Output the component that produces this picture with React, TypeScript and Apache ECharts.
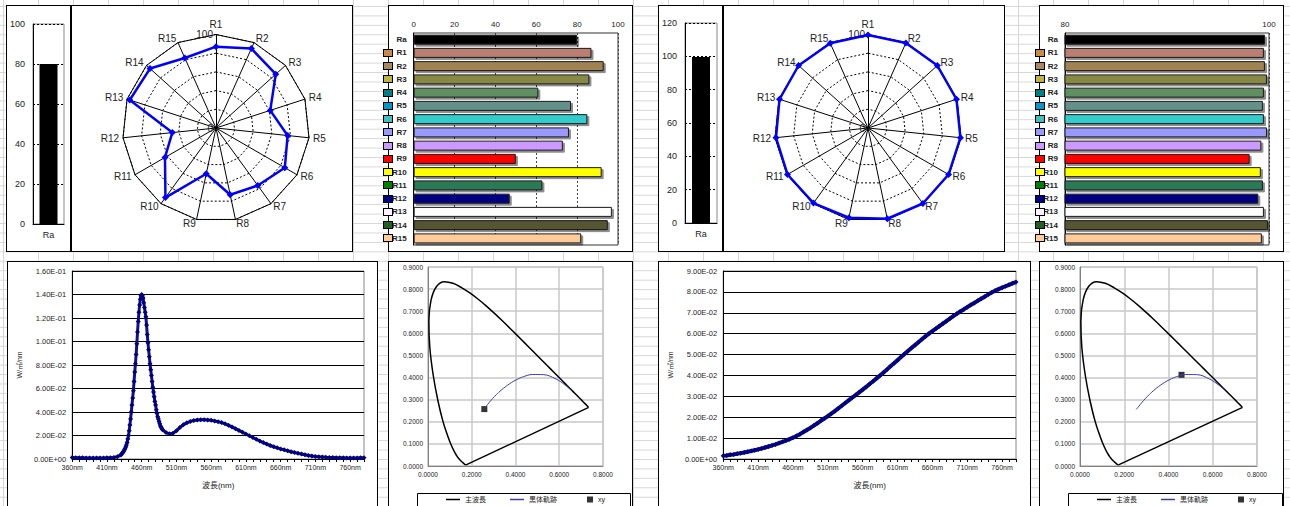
import React, { useEffect, useRef } from 'react';
import * as echarts from 'echarts';

const FONT = "'Liberation Sans', 'Noto Sans CJK JP', sans-serif";
const TXT = '#222';

// ---------- data ----------
const rNames = ['R1', 'R2', 'R3', 'R4', 'R5', 'R6', 'R7', 'R8', 'R9', 'R10', 'R11', 'R12', 'R13', 'R14', 'R15'];
const barCats = ['Ra', ...rNames];

const leftRa = 80;
const leftR = [87, 93, 86, 61, 77, 85, 76, 73, 50, 92, 63, 47, 97, 95, 82];
const rightRa = 99.6;
const rightR = [99.5, 99.6, 99.8, 99.5, 99.4, 99.5, 99.8, 99.25, 98.1, 99.2, 99.4, 98.95, 99.5, 99.9, 99.3];

const barColors = ['#000000', '#BA7F6F', '#A08252', '#888844', '#5F9062', '#639089', '#33CCCC', '#9999FF', '#CC99FF', '#FF0000', '#FFFF00', '#2B7A58', '#000080', '#FFFFFF', '#555533', '#FFCC99'];
const swatchColors = ['#C98A47', '#A88860', '#BDB540', '#008080', '#0099CC', '#40C0C0', '#9999FF', '#CC99FF', '#FF0000', '#FFFF00', '#008000', '#000080', '#FFF0FF', '#206020', '#FFCC99'];

const leftWl = [360, 365, 370, 375, 380, 385, 390, 395, 400, 405, 410, 415, 420, 425,
  430, 431, 432, 433, 434, 435, 436, 437, 438, 439, 440, 441, 442, 443, 444, 445, 446, 447, 448, 449,
  450, 451, 452, 453, 454, 455, 456, 457, 458, 459, 460, 461, 462, 463, 464, 465, 466, 467, 468, 469,
  470, 471, 472, 473, 474, 475, 476, 477, 478, 479, 480, 481, 482, 483, 484, 485, 486, 487, 488, 489, 490,
  495, 500, 505, 510, 515, 520, 525, 530, 535, 540, 545, 550, 555, 560, 565, 570, 575, 580, 585, 590,
  595, 600, 605, 610, 615, 620, 625, 630, 635, 640, 645, 650, 655, 660, 665, 670, 675, 680, 685, 690,
  695, 700, 705, 710, 715, 720, 725, 730, 735, 740, 745, 750, 755, 760, 765, 770, 775, 780];
const leftSpd = [0.0012, 0.0011, 0.0010, 0.0010, 0.0009, 0.0009, 0.0009, 0.0009, 0.0009, 0.0009, 0.0010, 0.0011, 0.0013, 0.0020,
  0.0035, 0.0042, 0.0050, 0.0058, 0.0067, 0.0077, 0.0088, 0.0102, 0.0120, 0.0140, 0.0170, 0.0200, 0.0240, 0.0290, 0.0340, 0.0400, 0.0460, 0.0520, 0.0580, 0.0660,
  0.0740, 0.0810, 0.0890, 0.0980, 0.1080, 0.1170, 0.1250, 0.1310, 0.1360, 0.1390, 0.1400, 0.1390, 0.1370, 0.1330, 0.1290, 0.1250, 0.1210, 0.1140, 0.1060, 0.0990,
  0.0930, 0.0870, 0.0810, 0.0760, 0.0710, 0.0660, 0.0610, 0.0570, 0.0530, 0.0490, 0.0460, 0.0420, 0.0390, 0.0360, 0.0340, 0.0320, 0.0300, 0.0280, 0.0270, 0.0260, 0.0250,
  0.0225, 0.0214, 0.0220, 0.0240, 0.0268, 0.0292, 0.0308, 0.0320, 0.0328, 0.0332, 0.0334, 0.0334, 0.0332, 0.0329, 0.0324, 0.0318, 0.0310, 0.0299, 0.0287, 0.0273,
  0.0258, 0.0243, 0.0228, 0.0213, 0.0198, 0.0183, 0.0168, 0.0153, 0.0140, 0.0127, 0.0115, 0.0104, 0.0095, 0.0086, 0.0078, 0.0070, 0.0062, 0.0055, 0.0048, 0.0042,
  0.0036, 0.0030, 0.0026, 0.0022, 0.0019, 0.0016, 0.0014, 0.0013, 0.0012, 0.0011, 0.0010, 0.0010, 0.0009, 0.0009, 0.0009, 0.0009, 0.0010, 0.0010];

const rightWl = [360, 365, 370, 375, 380, 385, 390, 395, 400, 405, 410, 415, 420, 425, 430, 435, 440, 445, 450, 455,
  460, 465, 470, 475, 480, 485, 490, 495, 500, 505, 510, 515, 520, 525, 530, 535, 540, 545, 550, 555,
  560, 565, 570, 575, 580, 585, 590, 595, 600, 605, 610, 615, 620, 625, 630, 635, 640, 645, 650, 655,
  660, 665, 670, 675, 680, 685, 690, 695, 700, 705, 710, 715, 720, 725, 730, 735, 740, 745, 750, 755,
  760, 765, 770, 775, 780];
const rightSpd = [0.0015, 0.0017, 0.0020, 0.0022, 0.0025, 0.0028, 0.0031, 0.0035, 0.0038, 0.0042, 0.0046, 0.0050, 0.0055, 0.0060, 0.0065, 0.0070, 0.0076, 0.0082, 0.0088, 0.0095,
  0.0102, 0.0110, 0.0119, 0.0129, 0.0139, 0.0149, 0.0160, 0.0171, 0.0183, 0.0194, 0.0205, 0.0217, 0.0229, 0.0242, 0.0255, 0.0268, 0.0281, 0.0294, 0.0306, 0.0319,
  0.0332, 0.0345, 0.0359, 0.0372, 0.0386, 0.0400, 0.0414, 0.0429, 0.0444, 0.0458, 0.0473, 0.0488, 0.0503, 0.0517, 0.0531, 0.0545, 0.0559, 0.0573, 0.0587, 0.0600,
  0.0612, 0.0624, 0.0636, 0.0648, 0.0660, 0.0672, 0.0684, 0.0695, 0.0706, 0.0716, 0.0727, 0.0737, 0.0747, 0.0757, 0.0767, 0.0777, 0.0787, 0.0797, 0.0806, 0.0813,
  0.0820, 0.0827, 0.0834, 0.0841, 0.0847];

// CIE 1931 spectral locus (380 .. 700 nm)
const locusX = [0.1741, 0.1738, 0.1733, 0.1726, 0.1714, 0.1689, 0.1644, 0.1566, 0.1510, 0.1440, 0.1355, 0.1241, 0.1096, 0.0913, 0.0687, 0.0454, 0.0235, 0.0082, 0.0039, 0.0139,
  0.0389, 0.0743, 0.1142, 0.1547, 0.1929, 0.2296, 0.2658, 0.3016, 0.3373, 0.3731, 0.4087, 0.4441, 0.4788, 0.5125, 0.5448, 0.5752, 0.6029, 0.6270, 0.6482, 0.6658,
  0.6801, 0.6915, 0.7006, 0.7079, 0.7190, 0.7260, 0.7300, 0.7334, 0.7347];
const locusY = [0.0050, 0.0049, 0.0048, 0.0048, 0.0051, 0.0069, 0.0109, 0.0177, 0.0227, 0.0297, 0.0399, 0.0578, 0.0868, 0.1327, 0.2007, 0.2950, 0.4127, 0.5384, 0.6548, 0.7502,
  0.8120, 0.8338, 0.8262, 0.8059, 0.7816, 0.7543, 0.7243, 0.6923, 0.6589, 0.6245, 0.5896, 0.5547, 0.5202, 0.4866, 0.4544, 0.4242, 0.3965, 0.3725, 0.3514, 0.3340,
  0.3197, 0.3083, 0.2993, 0.2920, 0.2809, 0.2740, 0.2700, 0.2666, 0.2653];

// Planckian (blackbody) locus
const bbX = [0.2540, 0.2637, 0.2807, 0.2952, 0.3135, 0.3221, 0.3451, 0.3805, 0.4053, 0.4369, 0.4770, 0.5267, 0.5857, 0.6251, 0.6528];
const bbY = [0.2560, 0.2675, 0.2884, 0.3048, 0.3237, 0.3318, 0.3516, 0.3768, 0.3907, 0.4041, 0.4137, 0.4133, 0.3931, 0.3674, 0.3444];

const leftXY = [0.2575, 0.2574];
const rightXY = [0.4589, 0.4124];

// ---------- layout (panel boxes) ----------
const PANELS = [
  { x: 6, y: 5, w: 65, h: 247 },
  { x: 71, y: 5, w: 282, h: 247 },
  { x: 388, y: 5, w: 245, h: 247 },
  { x: 658, y: 5, w: 65, h: 247 },
  { x: 723, y: 5, w: 282, h: 247 },
  { x: 1039, y: 5, w: 245, h: 247 },
  { x: 7, y: 261, w: 371, h: 260 },
  { x: 388, y: 261, w: 245, h: 260 },
  { x: 658, y: 261, w: 373, h: 260 },
  { x: 1039, y: 261, w: 245, h: 260 },
];

function sci(v: number): string {
  if (Math.abs(v) < 1e-12) return '0.00E+00';
  let e = Math.floor(Math.log10(Math.abs(v)));
  let m = v / Math.pow(10, e);
  if (Math.round(m * 100) / 100 >= 10) { m /= 10; e += 1; }
  if (Math.round(m * 100) / 100 < 1) { m *= 10; e -= 1; }
  return m.toFixed(2) + 'E' + (e < 0 ? '-' : '+') + String(Math.abs(e)).padStart(2, '0');
}

function raOption(v: number, max: number, top: number, width: number) {
  return {
    animation: false,
    grid: { left: 24, top, width, height: 200, show: true, borderColor: '#888', borderWidth: 1 },
    xAxis: {
      type: 'category', data: ['Ra'],
      axisLine: { lineStyle: { color: '#000' } }, axisTick: { show: false },
      axisLabel: { color: TXT, fontSize: 9, fontFamily: FONT, margin: 6 },
    },
    yAxis: {
      type: 'value', min: 0, max, interval: 20,
      axisLine: { show: true, lineStyle: { color: '#000' } }, axisTick: { show: false },
      axisLabel: { color: TXT, fontSize: 9, fontFamily: FONT, margin: 8 },
      splitLine: { lineStyle: { color: '#000', type: [2, 2], width: 1 } },
    },
    series: [{ type: 'bar', data: [v], barWidth: 18, itemStyle: { color: '#000' } }],
  };
}

function radarOption(vals: number[], cx: number) {
  const order = [0, 14, 13, 12, 11, 10, 9, 8, 7, 6, 5, 4, 3, 2, 1];
  const base = { center: [cx, 122], radius: 93.5, startAngle: 90, shape: 'polygon' };
  return {
    animation: false,
    radar: [
      {
        ...base,
        splitNumber: 5,
        indicator: order.map((i, k) => (k === 0
          ? { name: rNames[i], min: 0, max: 100, axisLabel: { show: true } }
          : { name: rNames[i], min: 0, max: 100 })),
        axisName: { color: TXT, fontSize: 10, fontFamily: FONT },
        axisNameGap: 4,
        axisLine: { lineStyle: { color: '#000', width: 1 } },
        axisTick: { show: false },
        splitLine: { lineStyle: { color: '#000', width: 1, type: [2, 2] } },
        splitArea: { show: false },
        axisLabel: {
          show: false, color: TXT, fontSize: 10, fontFamily: FONT, margin: 3,
          formatter: (v: number) => (v === 0 || v === 100 ? String(v) : ''),
        },
      },
      {
        ...base,
        splitNumber: 1,
        indicator: order.map((i) => ({ name: rNames[i], min: 0, max: 100 })),
        axisName: { show: false },
        axisLine: { show: false },
        axisTick: { show: false },
        axisLabel: { show: false },
        splitLine: { lineStyle: { color: '#000', width: 1 } },
        splitArea: { show: false },
      },
    ],
    series: [{
      type: 'radar', radarIndex: 0,
      symbol: 'diamond', symbolSize: 7,
      itemStyle: { color: '#0000FF' },
      lineStyle: { color: '#0000FF', width: 2.5 },
      data: [{ value: order.map((i) => vals[i]) }],
    }],
  };
}

function hbarOption(ra: number, rs: number[], min: number, max: number, left: number, width: number) {
  const vals = [ra, ...rs];
  return {
    animation: false,
    grid: { left, top: 27, width, height: 212, show: true, borderColor: '#333', borderWidth: 1 },
    xAxis: {
      type: 'value', position: 'top', min, max, interval: 20,
      axisLine: { show: false }, axisTick: { show: false },
      axisLabel: { color: TXT, fontSize: 8, fontFamily: FONT, margin: 5 },
      splitLine: { show: true, lineStyle: { color: '#444', type: [2, 2], width: 1 } },
    },
    yAxis: {
      type: 'category', inverse: true, data: barCats,
      axisLine: { show: true, lineStyle: { color: '#000' } }, axisTick: { show: false },
      axisLabel: { color: TXT, fontSize: 8, fontWeight: 'bold', fontFamily: FONT, margin: 7 },
    },
    series: [{
      type: 'bar', barWidth: 10,
      itemStyle: { borderColor: '#1a1a1a', borderWidth: 1, shadowColor: 'rgba(0,0,0,0.45)', shadowOffsetX: 2, shadowOffsetY: 2, shadowBlur: 0 },
      data: vals.map((v, i) => ({ value: v, itemStyle: { color: barColors[i] } })),
    }],
  };
}

function spectrumOption(wl: number[], spd: number[], ymax: number, yint: number, left: number, width: number, lw: number) {
  return {
    animation: false,
    grid: { left, top: 9, width, height: 188, show: true, borderColor: '#888', borderWidth: 1 },
    xAxis: {
      type: 'value', min: 360, max: 780, interval: 10,
      axisLine: { onZero: false, lineStyle: { color: '#000' } },
      axisTick: { show: true, length: 3, lineStyle: { color: '#000' } },
      splitLine: { show: false },
      axisLabel: {
        color: TXT, fontSize: 7, fontFamily: FONT, margin: 5,
        formatter: (v: number) => {
          const r = Math.round(v);
          return (r - 360) % 50 === 0 && r <= 760 ? `${r}nm` : '';
        },
      },
      name: '波長(nm)', nameLocation: 'middle', nameGap: 22,
      nameTextStyle: { color: TXT, fontSize: 8, fontFamily: FONT },
    },
    yAxis: {
      type: 'value', min: 0, max: ymax, interval: yint,
      axisLine: { show: true, lineStyle: { color: '#000' } }, axisTick: { show: false },
      splitLine: { lineStyle: { color: '#000', width: 1 } },
      axisLabel: { color: TXT, fontSize: 7.5, fontFamily: FONT, margin: 6, formatter: sci },
      name: 'W/㎡/nm', nameLocation: 'middle', nameGap: 40,
      nameTextStyle: { color: TXT, fontSize: 7, fontFamily: FONT },
    },
    series: [{
      type: 'line', data: wl.map((w, i) => [w, spd[i]]),
      symbol: 'diamond', symbolSize: 5,
      itemStyle: { color: '#000080' },
      lineStyle: { color: '#10108a', width: lw },
    }],
  };
}

function cieOption(pt: number[], left: number, width: number, boxW: number) {
  const locus = locusX.map((x, i) => [x, locusY[i]]);
  const last = locus.length - 1;
  const bb = bbX.map((x, i) => [x, bbY[i]]);
  const lab = { color: TXT, fontSize: 6.5, fontFamily: FONT, margin: 5, formatter: (v: number) => v.toFixed(4) };
  const legText = { color: TXT, fontSize: 7, fontFamily: FONT };
  return {
    animation: false,
    grid: { left, top: 5, width, height: 199, show: true, borderColor: '#b0b0b0', borderWidth: 1 },
    xAxis: {
      type: 'value', min: 0, max: 0.8, interval: 0.2,
      axisLine: { lineStyle: { color: '#808080' } }, axisTick: { show: false },
      splitLine: { lineStyle: { color: '#c8c8c8', width: 1.5 } }, axisLabel: lab,
    },
    yAxis: {
      type: 'value', min: 0, max: 0.9, interval: 0.1,
      axisLine: { show: true, lineStyle: { color: '#808080' } }, axisTick: { show: false },
      splitLine: { lineStyle: { color: '#c8c8c8', width: 1.5 } }, axisLabel: lab,
    },
    graphic: [{
      type: 'rect', silent: true, z: 0,
      shape: { x: 28.5, y: 231.5, width: boxW, height: 30 },
      style: { fill: '#fff', stroke: '#000', lineWidth: 1 },
    }],
    legend: [
      {
        data: [{ name: '主波長', icon: 'rect' }, { name: '黒体軌跡', icon: 'rect' }],
        left: 57, top: 234, padding: 0, itemWidth: 14, itemHeight: 1.5, itemGap: 24, textStyle: legText, selectedMode: false,
      },
      { data: [{ name: 'xy', icon: 'rect' }], left: 198, top: 234, padding: 0, itemWidth: 6, itemHeight: 6, textStyle: legText, selectedMode: false },
    ],
    series: [
      { name: '主波長', type: 'line', data: locus, symbol: 'none', smooth: 0.4, color: '#000', lineStyle: { color: '#000', width: 1.5 } },
      { name: '主波長', type: 'line', data: [locus[last], locus[0]], symbol: 'none', color: '#000', lineStyle: { color: '#000', width: 1.5 } },
      { name: '黒体軌跡', type: 'line', data: bb, symbol: 'none', smooth: 0.4, color: '#3c3ca8', lineStyle: { color: '#3c3ca8', width: 1 } },
      { name: 'xy', type: 'scatter', data: [pt], symbol: 'rect', symbolSize: 6, color: '#000', itemStyle: { color: '#000' } },
    ],
  };
}

export default function App() {
  const refs = useRef<(HTMLDivElement | null)[]>([]);

  useEffect(() => {
    const options: any[] = [
      raOption(leftRa, 100, 18, 33),
      radarOption(leftR, 144),
      hbarOption(leftRa, leftR, 0, 100, 24, 205),
      raOption(rightRa, 120, 17, 34),
      radarOption(rightR, 144),
      hbarOption(rightRa, rightR, 80, 100, 25, 204),
      spectrumOption(leftWl, leftSpd, 0.16, 0.02, 55, 301, 3),
      cieOption(leftXY, 39, 175, 213),
      spectrumOption(rightWl, rightSpd, 0.09, 0.01, 57, 300, 4),
      cieOption(rightXY, 40, 177, 214),
    ];
    const charts = refs.current.map((el, i) => {
      const c = echarts.init(el as HTMLDivElement, undefined, { renderer: 'svg' });
      c.setOption(options[i]);
      return c;
    });
    return () => charts.forEach((c) => c.dispose());
  }, []);

  const band = 212 / 16;
  const swatchLefts = [383, 1035];

  return (
    <div
      style={{
        position: 'absolute', left: 0, top: 0, width: 1290, height: 506, overflow: 'hidden',
        backgroundColor: '#fff',
        backgroundImage: 'linear-gradient(to bottom, #d6d6d6 1px, transparent 1px), linear-gradient(to right, #d6d6d6 1px, transparent 1px)',
        backgroundSize: '100% 9.45px, 35px 100%',
        backgroundPosition: '0 6px, 3px 0',
      }}
    >
      {PANELS.map((p, i) => (
        <div
          key={i}
          style={{
            position: 'absolute', left: p.x, top: p.y, width: p.w, height: p.h,
            border: '1px solid #000', boxSizing: 'border-box', background: '#fff',
          }}
        >
          <div ref={(el) => { refs.current[i] = el; }} style={{ width: p.w - 2, height: p.h - 2 }} />
        </div>
      ))}
      {swatchLefts.map((sx) => swatchColors.map((c, i) => (
        <div
          key={`${sx}-${i}`}
          style={{
            position: 'absolute', left: sx, top: Math.round(33 + band * (i + 1) + band / 2 - 4),
            width: 10, height: 8, background: c, border: '1px solid #000', boxSizing: 'border-box',
          }}
        />
      )))}
    </div>
  );
}
